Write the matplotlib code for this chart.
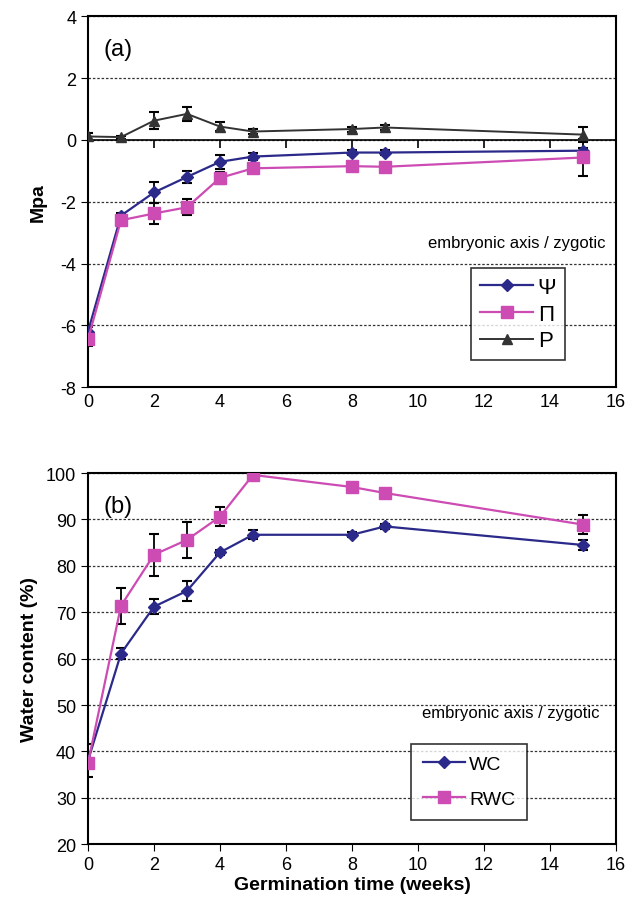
import matplotlib
matplotlib.use("Agg")
import matplotlib.pyplot as plt
import numpy as np

plt.rcParams['font.family'] = ['Liberation Sans', 'DejaVu Sans']
plt.rcParams['axes.unicode_minus'] = False

weeks = [0, 1, 2, 3, 4, 5, 8, 9, 15]

psi = [-6.2, -2.45, -1.7, -1.2, -0.71, -0.54, -0.41, -0.41, -0.35]
psi_err = [0.15, 0.1, 0.33, 0.19, 0.22, 0.1, 0.08, 0.08, 0.1]
pi_ = [-6.45, -2.6, -2.38, -2.18, -1.23, -0.92, -0.85, -0.87, -0.57]
pi_err = [0.2, 0.1, 0.35, 0.26, 0.2, 0.1, 0.08, 0.08, 0.6]
p = [0.11, 0.09, 0.62, 0.84, 0.43, 0.27, 0.35, 0.4, 0.17]
p_err = [0.12, 0.05, 0.27, 0.22, 0.14, 0.08, 0.08, 0.08, 0.25]

wc = [38.0, 61.1, 71.2, 74.6, 82.9, 86.7, 86.7, 88.5, 84.5]
wc_err = [3.5, 1.2, 1.6, 2.1, 0.5, 1.0, 0.5, 0.5, 1.0]
rwc = [37.5, 71.4, 82.4, 85.6, 90.6, 99.6, 97.0, 95.7, 88.9]
rwc_err = [1.0, 3.9, 4.5, 3.8, 2.0, 0.5, 0.5, 0.5, 2.0]

c_psi = '#2B2A8A'
c_pi = '#CC4CB4'
c_p = '#333333'

fig = plt.figure(figsize=(6.33, 9.03), dpi=100)
axa = fig.add_axes([0.139, 0.570, 0.834, 0.411])
axb = fig.add_axes([0.139, 0.064, 0.834, 0.411])

ekw = dict(ecolor='black', elinewidth=1.3, capsize=3.5, capthick=1.5)

# Panel (a)
e1 = axa.errorbar(weeks, psi, yerr=psi_err, color=c_psi, marker='D', ms=6, lw=1.6, label='Ψ', zorder=3, **ekw)
e2 = axa.errorbar(weeks, pi_, yerr=pi_err, color=c_pi, marker='s', ms=8, lw=1.6, label='Π', zorder=3, **ekw)
e3 = axa.errorbar(weeks, p, yerr=p_err, color=c_p, marker='^', ms=7, lw=1.4, label='P', zorder=3, **ekw)
axa.set_xlim(0, 16)
axa.set_ylim(-8, 4)
axa.set_yticks(np.arange(-8, 5, 2))
axa.set_xticks(np.arange(0, 17, 2))
axa.grid(axis='y', linestyle=(0, (2, 1.5)), color='#333333', lw=0.9)
axa.axhline(0, color='black', lw=1.2, zorder=2)
axa.tick_params(axis='x', length=0, labelsize=13, pad=4)
axa.tick_params(axis='y', direction='out', length=5, labelsize=13)
sec = axa.secondary_xaxis(2/3)
sec.set_xticks(np.arange(0, 17, 2))
sec.tick_params(axis='x', which='major', bottom=True, top=False,
                labelbottom=False, labeltop=False, direction='out',
                length=6, width=1.2, color='black')
sec.spines['bottom'].set_visible(False)
sec.spines['top'].set_visible(False)
axa.set_ylabel('Mpa', fontsize=14, fontweight='bold', labelpad=10)
axa.text(0.98, 0.39, 'embryonic axis / zygotic', transform=axa.transAxes,
         ha='right', va='center', fontsize=12)
axa.text(0.03, 0.94, '(a)', transform=axa.transAxes, ha='left', va='top', fontsize=17)
leg = axa.legend(handles=[e1[0], e2[0], e3[0]], labels=['Ψ', 'Π', 'P'],
                 loc='lower right', bbox_to_anchor=(0.925, 0.043), fontsize=16, frameon=True,
                 fancybox=False, edgecolor='black', handlelength=2.4, handletextpad=0.2,
                 borderpad=0.4, labelspacing=0.25)
leg.get_frame().set_linewidth(1.2)
for s in axa.spines.values():
    s.set_linewidth(1.5)

# Panel (b)
f1 = axb.errorbar(weeks, wc, yerr=wc_err, color=c_psi, marker='D', ms=6, lw=1.6, label='WC', zorder=3, **ekw)
f2 = axb.errorbar(weeks, rwc, yerr=rwc_err, color=c_pi, marker='s', ms=8, lw=1.6, label='RWC', zorder=3, **ekw)
axb.set_xlim(0, 16)
axb.set_ylim(20, 100)
axb.set_yticks(np.arange(20, 101, 10))
axb.set_xticks(np.arange(0, 17, 2))
axb.grid(axis='y', linestyle=(0, (2, 1.5)), color='#333333', lw=0.9)
axb.tick_params(axis='both', direction='out', length=5, labelsize=13)
axb.set_ylabel('Water content (%)', fontsize=14, fontweight='bold', labelpad=6)
axb.set_xlabel('Germination time (weeks)', fontsize=14, fontweight='bold', labelpad=2)
axb.text(0.80, 0.355, 'embryonic axis / zygotic', transform=axb.transAxes,
         ha='center', va='center', fontsize=12)
axb.text(0.03, 0.94, '(b)', transform=axb.transAxes, ha='left', va='top', fontsize=17)
legb = axb.legend(handles=[f1[0], f2[0]], labels=['WC', 'RWC'],
                  loc='lower right', bbox_to_anchor=(0.85, 0.04), fontsize=14, frameon=True,
                  fancybox=False, edgecolor='black', handlelength=2.2, handletextpad=0.2,
                  borderpad=0.6, labelspacing=0.9)
legb.get_frame().set_linewidth(1.2)
for s in axb.spines.values():
    s.set_linewidth(1.5)

fig.savefig('out.png', dpi=100)
